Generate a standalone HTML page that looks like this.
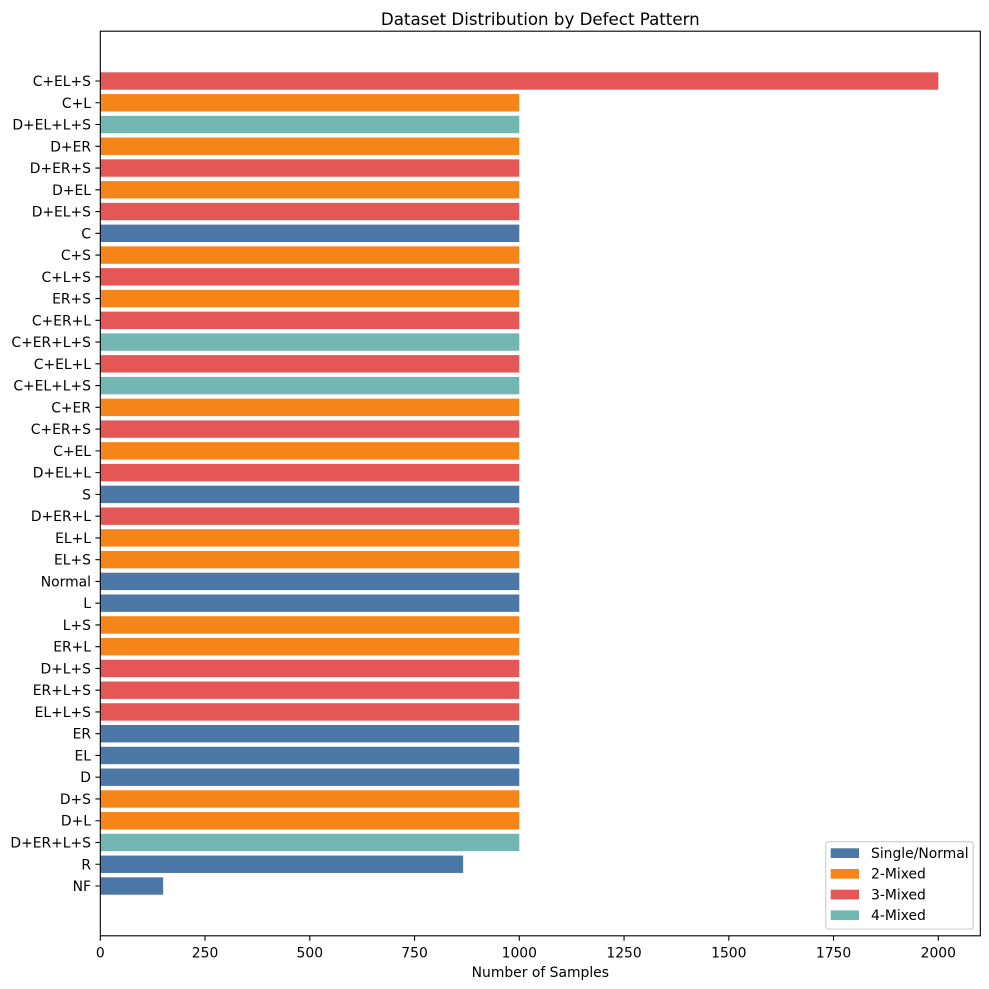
<!DOCTYPE html>
<html><head><meta charset="utf-8">
<style>
html,body{margin:0;padding:0;background:#fff;}
svg{display:block;}
text{font-family:"DejaVu Sans","Liberation Sans",sans-serif;fill:#000;font-size:13.9px;}
.yl text{text-anchor:end;}
.xl text{text-anchor:middle;}
</style></head>
<body>
<svg width="989" height="989" viewBox="0 0 989 989" xmlns="http://www.w3.org/2000/svg">
<rect width="989" height="989" fill="#fff"/>
<g>
<rect x="100.3" y="72.30" width="838" height="17.4" fill="#e45756"/>
<rect x="100.3" y="94.06" width="419" height="17.4" fill="#f58518"/>
<rect x="100.3" y="115.81" width="419" height="17.4" fill="#72b7b2"/>
<rect x="100.3" y="137.57" width="419" height="17.4" fill="#f58518"/>
<rect x="100.3" y="159.33" width="419" height="17.4" fill="#e45756"/>
<rect x="100.3" y="181.09" width="419" height="17.4" fill="#f58518"/>
<rect x="100.3" y="202.84" width="419" height="17.4" fill="#e45756"/>
<rect x="100.3" y="224.60" width="419" height="17.4" fill="#4c78a8"/>
<rect x="100.3" y="246.36" width="419" height="17.4" fill="#f58518"/>
<rect x="100.3" y="268.11" width="419" height="17.4" fill="#e45756"/>
<rect x="100.3" y="289.87" width="419" height="17.4" fill="#f58518"/>
<rect x="100.3" y="311.63" width="419" height="17.4" fill="#e45756"/>
<rect x="100.3" y="333.38" width="419" height="17.4" fill="#72b7b2"/>
<rect x="100.3" y="355.14" width="419" height="17.4" fill="#e45756"/>
<rect x="100.3" y="376.90" width="419" height="17.4" fill="#72b7b2"/>
<rect x="100.3" y="398.66" width="419" height="17.4" fill="#f58518"/>
<rect x="100.3" y="420.41" width="419" height="17.4" fill="#e45756"/>
<rect x="100.3" y="442.17" width="419" height="17.4" fill="#f58518"/>
<rect x="100.3" y="463.93" width="419" height="17.4" fill="#e45756"/>
<rect x="100.3" y="485.68" width="419" height="17.4" fill="#4c78a8"/>
<rect x="100.3" y="507.44" width="419" height="17.4" fill="#e45756"/>
<rect x="100.3" y="529.20" width="419" height="17.4" fill="#f58518"/>
<rect x="100.3" y="550.95" width="419" height="17.4" fill="#f58518"/>
<rect x="100.3" y="572.71" width="419" height="17.4" fill="#4c78a8"/>
<rect x="100.3" y="594.47" width="419" height="17.4" fill="#4c78a8"/>
<rect x="100.3" y="616.23" width="419" height="17.4" fill="#f58518"/>
<rect x="100.3" y="637.98" width="419" height="17.4" fill="#f58518"/>
<rect x="100.3" y="659.74" width="419" height="17.4" fill="#e45756"/>
<rect x="100.3" y="681.50" width="419" height="17.4" fill="#e45756"/>
<rect x="100.3" y="703.25" width="419" height="17.4" fill="#e45756"/>
<rect x="100.3" y="725.01" width="419" height="17.4" fill="#4c78a8"/>
<rect x="100.3" y="746.77" width="419" height="17.4" fill="#4c78a8"/>
<rect x="100.3" y="768.52" width="419" height="17.4" fill="#4c78a8"/>
<rect x="100.3" y="790.28" width="419" height="17.4" fill="#f58518"/>
<rect x="100.3" y="812.04" width="419" height="17.4" fill="#f58518"/>
<rect x="100.3" y="833.80" width="419" height="17.4" fill="#72b7b2"/>
<rect x="100.3" y="855.55" width="362.85" height="17.4" fill="#4c78a8"/>
<rect x="100.3" y="877.31" width="62.85" height="17.4" fill="#4c78a8"/>
</g>
<path stroke="#000" stroke-width="1.1" fill="none" d="M95.4 81H100.3M95.4 102.76H100.3M95.4 124.51H100.3M95.4 146.27H100.3M95.4 168.03H100.3M95.4 189.79H100.3M95.4 211.54H100.3M95.4 233.30H100.3M95.4 255.06H100.3M95.4 276.81H100.3M95.4 298.57H100.3M95.4 320.33H100.3M95.4 342.08H100.3M95.4 363.84H100.3M95.4 385.60H100.3M95.4 407.36H100.3M95.4 429.11H100.3M95.4 450.87H100.3M95.4 472.63H100.3M95.4 494.38H100.3M95.4 516.14H100.3M95.4 537.90H100.3M95.4 559.65H100.3M95.4 581.41H100.3M95.4 603.17H100.3M95.4 624.93H100.3M95.4 646.68H100.3M95.4 668.44H100.3M95.4 690.20H100.3M95.4 711.95H100.3M95.4 733.71H100.3M95.4 755.47H100.3M95.4 777.22H100.3M95.4 798.98H100.3M95.4 820.74H100.3M95.4 842.50H100.3M95.4 864.25H100.3M95.4 886.01H100.3"/>
<path stroke="#000" stroke-width="1.1" fill="none" d="M100.3 935.8V940.7M205.05 935.8V940.7M309.8 935.8V940.7M414.55 935.8V940.7M519.3 935.8V940.7M624.05 935.8V940.7M728.8 935.8V940.7M833.55 935.8V940.7M938.3 935.8V940.7"/>
<g class="yl">
<text x="91" y="86">C+EL+S</text>
<text x="91" y="107.76">C+L</text>
<text x="91" y="129.51">D+EL+L+S</text>
<text x="91" y="151.27">D+ER</text>
<text x="91" y="173.03">D+ER+S</text>
<text x="91" y="194.79">D+EL</text>
<text x="91" y="216.54">D+EL+S</text>
<text x="91" y="238.30">C</text>
<text x="91" y="260.06">C+S</text>
<text x="91" y="281.81">C+L+S</text>
<text x="91" y="303.57">ER+S</text>
<text x="91" y="325.33">C+ER+L</text>
<text x="91" y="347.08">C+ER+L+S</text>
<text x="91" y="368.84">C+EL+L</text>
<text x="91" y="390.60">C+EL+L+S</text>
<text x="91" y="412.36">C+ER</text>
<text x="91" y="434.11">C+ER+S</text>
<text x="91" y="455.87">C+EL</text>
<text x="91" y="477.63">D+EL+L</text>
<text x="91" y="499.38">S</text>
<text x="91" y="521.14">D+ER+L</text>
<text x="91" y="542.90">EL+L</text>
<text x="91" y="564.65">EL+S</text>
<text x="91" y="586.41">Normal</text>
<text x="91" y="608.17">L</text>
<text x="91" y="629.93">L+S</text>
<text x="91" y="651.68">ER+L</text>
<text x="91" y="673.44">D+L+S</text>
<text x="91" y="695.20">ER+L+S</text>
<text x="91" y="716.95">EL+L+S</text>
<text x="91" y="738.71">ER</text>
<text x="91" y="760.47">EL</text>
<text x="91" y="782.22">D</text>
<text x="91" y="803.98">D+S</text>
<text x="91" y="825.74">D+L</text>
<text x="91" y="847.50">D+ER+L+S</text>
<text x="91" y="869.25">R</text>
<text x="91" y="891.01">NF</text>
</g>
<g class="xl">
<text x="100.3" y="957.3">0</text>
<text x="205.05" y="957.3">250</text>
<text x="309.8" y="957.3">500</text>
<text x="414.55" y="957.3">750</text>
<text x="519.3" y="957.3">1000</text>
<text x="624.05" y="957.3">1250</text>
<text x="728.8" y="957.3">1500</text>
<text x="833.55" y="957.3">1750</text>
<text x="938.3" y="957.3">2000</text>
</g>
<rect x="100.3" y="31.2" width="880" height="904.6" fill="none" stroke="#000" stroke-width="1.1"/>
<text x="540.3" y="25" text-anchor="middle" style="font-size:16.67px">Dataset Distribution by Defect Pattern</text>
<text x="540.3" y="977" text-anchor="middle">Number of Samples</text>
<g>
<rect x="825.7" y="841.7" width="147.6" height="87.3" rx="3" ry="3" fill="#fff" fill-opacity="0.8" stroke="#cccccc" stroke-width="1.1"/>
<rect x="830.7" y="848.3" width="28.3" height="9.7" fill="#4c78a8"/>
<rect x="830.7" y="869" width="28.3" height="9.7" fill="#f58518"/>
<rect x="830.7" y="889.7" width="28.3" height="9.7" fill="#e45756"/>
<rect x="830.7" y="910.4" width="28.3" height="9.7" fill="#72b7b2"/>
<text x="871" y="858">Single/Normal</text>
<text x="871" y="878.7">2-Mixed</text>
<text x="871" y="899.4">3-Mixed</text>
<text x="871" y="920.1">4-Mixed</text>
</g>
</svg>
</body></html>
